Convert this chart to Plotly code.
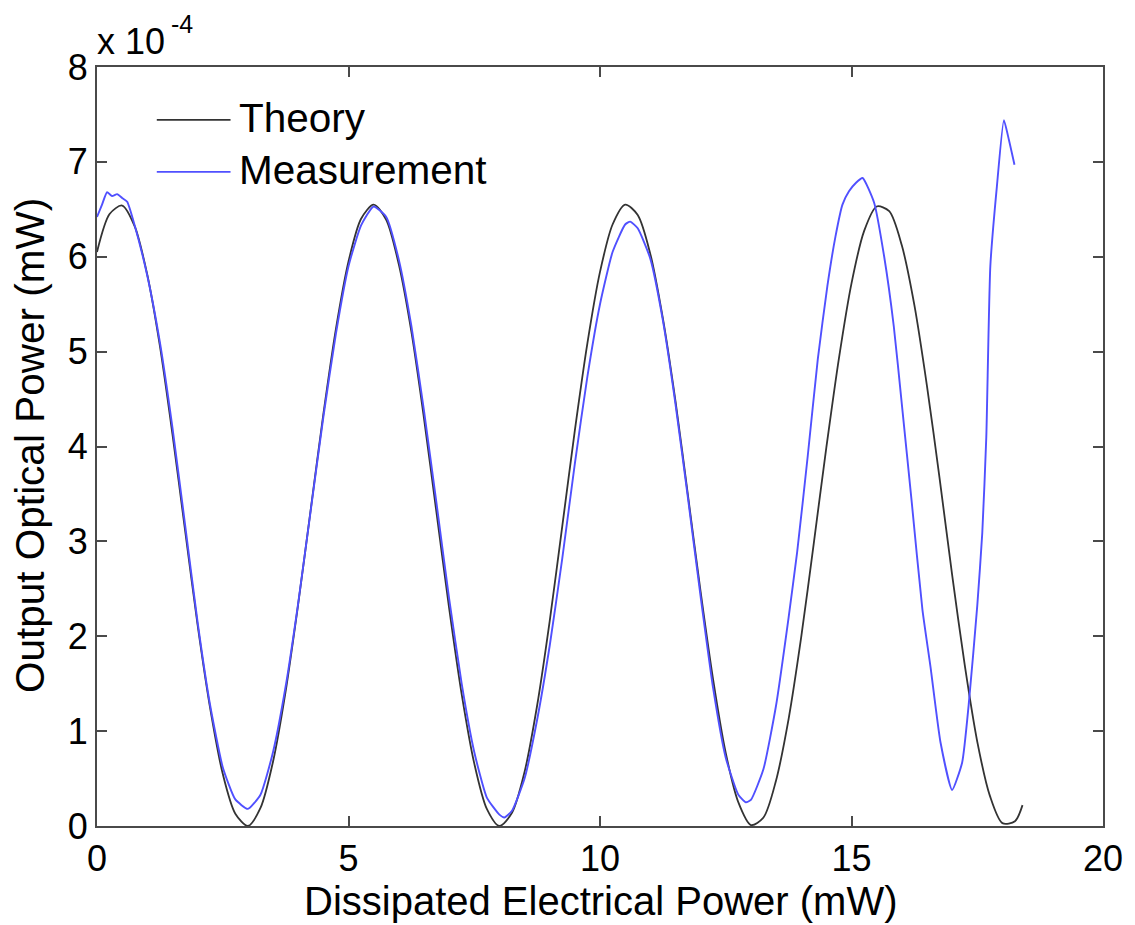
import plotly.graph_objects as go

# Theory curve (output optical power, units of 1e-4 mW) vs dissipated electrical power (mW)
theory_x = [0.0, 0.25, 0.5, 0.75, 1.0, 1.25, 1.5, 1.75, 2.0, 2.25, 2.5, 2.75, 3.0, 3.25, 3.5, 3.75,
            4.0, 4.25, 4.5, 4.75, 5.0, 5.25, 5.5, 5.75, 6.0, 6.25, 6.5, 6.75, 7.0, 7.25, 7.5, 7.75,
            8.0, 8.25, 8.5, 8.75, 9.0, 9.25, 9.5, 9.75, 10.0, 10.25, 10.5, 10.75, 11.0, 11.25, 11.5,
            11.75, 12.0, 12.25, 12.5, 12.75, 13.0, 13.25, 13.5, 13.75, 14.0, 14.25, 14.5, 14.75, 15.0,
            15.25, 15.5, 15.75, 16.0, 16.25, 16.5, 16.75, 17.0, 17.25, 17.5, 17.75, 18.0, 18.25, 18.4]
theory_y = [6.05, 6.45, 6.54, 6.32, 5.81, 5.06, 4.13, 3.12, 2.12, 1.24, 0.55, 0.13, 0.0, 0.19, 0.68, 1.42,
            2.34, 3.34, 4.34, 5.24, 5.95, 6.40, 6.55, 6.39, 5.92, 5.21, 4.30, 3.30, 2.30, 1.39, 0.66, 0.18,
            0.0, 0.14, 0.57, 1.27, 2.16, 3.16, 4.17, 5.09, 5.84, 6.34, 6.55, 6.44, 6.03, 5.35, 4.48,
            3.48, 2.47, 1.54, 0.77, 0.25, 0.01, 0.09, 0.48, 1.13, 1.99, 2.98, 3.99, 4.93, 5.72,
            6.27, 6.53, 6.48, 6.12, 5.49, 4.64, 3.67, 2.65, 1.70, 0.89, 0.32, 0.03, 0.05, 0.22]

# Measurement curve
meas_x = [0.0, 0.1, 0.2, 0.3, 0.4, 0.5, 0.6, 0.75, 1.0, 1.25, 1.5, 1.75, 2.0, 2.25, 2.5, 2.75, 3.0,
          3.25, 3.5, 3.75, 4.0, 4.25, 4.5, 4.75, 5.0, 5.25, 5.5, 5.75, 6.0, 6.25, 6.5, 6.75, 7.0, 7.25,
          7.5, 7.75, 8.0, 8.1, 8.25, 8.5, 8.75, 9.0, 9.25, 9.5, 9.75, 10.0, 10.25, 10.5, 10.6, 10.75,
          11.0, 11.25, 11.5, 11.75, 12.0, 12.25, 12.5, 12.75, 12.9, 13.0, 13.25, 13.5, 13.75, 13.92,
          14.13, 14.33, 14.52, 14.68, 14.82, 14.95, 15.09, 15.22, 15.45, 15.65, 15.84, 16.0, 16.2,
          16.41, 16.57, 16.77, 17.0, 17.2, 17.33, 17.5, 17.6, 17.68, 17.76, 17.89, 18.03, 18.13, 18.24]
meas_y = [6.42, 6.55, 6.68, 6.64, 6.66, 6.62, 6.58, 6.33, 5.80, 5.10, 4.20, 3.18, 2.15, 1.27, 0.62, 0.28, 0.18,
          0.33, 0.78, 1.47, 2.35, 3.33, 4.31, 5.19, 5.90, 6.33, 6.53, 6.42, 5.97, 5.27, 4.38, 3.40, 2.40, 1.50,
          0.78, 0.30, 0.12, 0.09, 0.16, 0.50, 1.12, 1.90, 2.82, 3.82, 4.74, 5.50, 6.05, 6.34, 6.37, 6.30,
          5.98, 5.33, 4.45, 3.45, 2.42, 1.45, 0.72, 0.33, 0.25, 0.275, 0.60, 1.27, 2.20, 2.89,
          3.90, 4.92, 5.69, 6.21, 6.55, 6.69, 6.78, 6.83, 6.57, 6.00, 5.27, 4.45, 3.40,
          2.28, 1.68, 0.88, 0.38, 0.67, 1.28, 2.32, 3.09, 4.10, 5.90, 6.74, 7.44, 7.23, 6.97]

x_ticks = [0, 5, 10, 15, 20]
y_ticks = [0, 1, 2, 3, 4, 5, 6, 7, 8]

series_names = ["Theory", "Measurement"]
x_title = "Dissipated Electrical Power (mW)"
y_title = "Output Optical Power (mW)"
theory_color = "#333333"
meas_color = "#5050ff"
axis_color = "#4a4a4a"
FONT = "Liberation Sans, Arial, sans-serif"

fig = go.Figure()
fig.add_trace(go.Scatter(x=theory_x, y=theory_y, mode="lines", name=series_names[0],
                         line=dict(color=theory_color, width=1.8, shape="spline", smoothing=0.8),
                         showlegend=False))
fig.add_trace(go.Scatter(x=meas_x, y=meas_y, mode="lines", name=series_names[1],
                         line=dict(color=meas_color, width=1.9, shape="spline", smoothing=0.5),
                         showlegend=False))

L, R, T, B = 97, 28.5, 67, 98.5
W, H = 1135, 925

axis_common = dict(showline=True, linecolor=axis_color, linewidth=2, mirror="ticks",
                   ticks="inside", ticklen=10, tickwidth=1.5, tickcolor=axis_color,
                   showgrid=False, zeroline=False,
                   tickfont=dict(family=FONT, size=36, color="black"))

fig.update_xaxes(range=[0, 20], tickvals=x_ticks, ticktext=[str(v) for v in x_ticks], **axis_common)
fig.update_yaxes(range=[0, 8], tickvals=y_ticks, ticktext=[str(v) for v in y_ticks], **axis_common)

pw = W - L - R
ph = H - T - B
def px(xp):
    return (xp - L) / pw
def py(yp):
    return (H - B - yp) / ph

shapes = []
annotations = []

# Axis titles (placed close to the tick labels, as in the MATLAB original)
annotations.append(dict(xref="paper", yref="paper", x=0.5, y=py(902), text=x_title,
                        showarrow=False, xanchor="center", yanchor="middle",
                        font=dict(family=FONT, size=40, color="black")))
annotations.append(dict(xref="paper", yref="paper", x=px(30), y=py(446), text=y_title,
                        textangle=-90, showarrow=False, xanchor="center", yanchor="middle",
                        font=dict(family=FONT, size=40.5, color="black")))

# Manual MATLAB-style legend (no box)
legend_rows = [(series_names[0], theory_color, 120), (series_names[1], meas_color, 172)]
for name, col, ypix in legend_rows:
    shapes.append(dict(type="line", xref="paper", yref="paper", x0=px(157), x1=px(231),
                       y0=py(ypix), y1=py(ypix), line=dict(color=col, width=1.8)))
    annotations.append(dict(xref="paper", yref="paper", x=px(237), y=py(ypix - 2), text=name,
                            showarrow=False, xanchor="left", yanchor="middle",
                            font=dict(family=FONT, size=40.5, color="black")))

# Exponent label
annotations.append(dict(xref="paper", yref="paper", x=px(95), y=py(41), text="x 10",
                        showarrow=False, xanchor="left", yanchor="middle",
                        font=dict(family=FONT, size=36, color="black")))
annotations.append(dict(xref="paper", yref="paper", x=px(169), y=py(24), text="-4",
                        showarrow=False, xanchor="left", yanchor="middle",
                        font=dict(family=FONT, size=25, color="black")))

fig.update_layout(width=W, height=H, margin=dict(l=L, r=R, t=T, b=B, pad=0),
                  paper_bgcolor="white", plot_bgcolor="white",
                  shapes=shapes, annotations=annotations, showlegend=False,
                  font=dict(family=FONT, color="black"))

fig.write_html("out.html")
